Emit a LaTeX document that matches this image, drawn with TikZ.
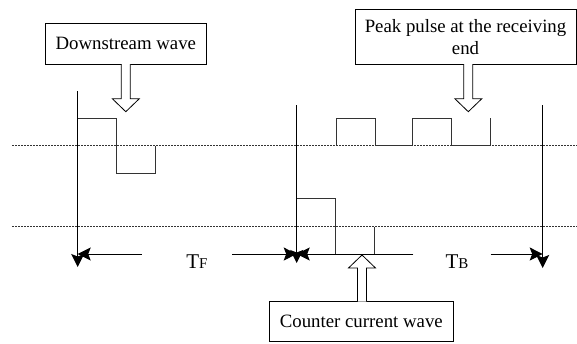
\documentclass[tikz,border=0pt]{standalone}
\usepackage{fontspec}
\setmainfont{Liberation Serif}
\usetikzlibrary{arrows.meta}
\newcommand\blockarr[4]{% x, y start, y tip, dir (+1 down, -1 up)
  \draw[line width=0.8pt, fill=white] (#1-4.5,#2) -- (#1-4.5,#3-13*#4) -- (#1-13.5,#3-13*#4) -- (#1,#3)
     -- (#1+13.5,#3-13*#4) -- (#1+4.5,#3-13*#4) -- (#1+4.5,#2);}
\begin{document}
\begin{tikzpicture}[x=1pt,y=-1pt,
  box/.style={draw, line width=0.8pt, inner sep=0pt, align=center, font=\fontsize{18.8}{22}\selectfont},
  wave/.style={line width=0.9pt, draw=black!80},
  dotline/.style={line width=0.9pt, dash pattern=on 1.5pt off 1.5pt, draw=black!80},
  axis/.style={line width=0.9pt, -{Stealth[length=13pt,width=13pt,inset=2.5pt]}},
  tlabel/.style={inner sep=0pt, font=\fontsize{21}{21}\selectfont}]
\useasboundingbox (0,0) rectangle (577,343);
% boxes
\node[box, minimum width=161.7pt, minimum height=40.7pt] (down) at (125.8,43.7) {Downstream wave};
\node[box, minimum width=221pt, minimum height=54.7pt] (peak) at (465.5,36.7) {Peak pulse at the receiving\\end};
\node[box, minimum width=184pt, minimum height=40pt] (counter) at (361.3,321.7) {Counter current wave};
% dotted levels
\draw[dotline] (12,145.7) -- (577,145.7);
\draw[dotline] (12,226.7) -- (577,226.7);
% waveforms
\draw[wave] (77.7,118) -- (116,118) -- (116,173.7) -- (155,173.7) -- (155,145.7);
\draw[wave] (336,145.7) -- (336,118.3) -- (375,118.3) -- (375,145.7) -- (412.7,145.7) -- (412.7,118.3)
  -- (451.7,118.3) -- (451.7,145.7) -- (490,145.7) -- (490,118.3);
\draw[wave] (296.7,254) -- (296.7,198.5) -- (335,198.5) -- (335,254) -- (374.3,254) -- (374.3,226.7);
% vertical time marks
\coordinate (v1t) at (77.7,91);   \coordinate (v1b) at (77.7,267);
\coordinate (v2t) at (296.7,105); \coordinate (v2b) at (296.7,263);
\coordinate (v3t) at (542.7,105); \coordinate (v3b) at (542.7,268);
\draw[axis] (v1t) -- (v1b);
\draw[axis] (v2t) -- (v2b);
\draw[axis] (v3t) -- (v3b);
% horizontal intervals
\coordinate (h1) at (77.7,254); \coordinate (h2) at (296.7,254); \coordinate (h3) at (542.7,254);
\coordinate (fL) at (141.7,254); \coordinate (fR) at (232.3,254);
\coordinate (bL) at (413.3,254); \coordinate (bR) at (490.7,254);
\node[tlabel] (tf) at (197,262) {T{\fontsize{15}{15}\selectfont F}};
\node[tlabel] (tb) at (457,262) {T{\fontsize{15}{15}\selectfont B}};
\draw[axis] (fL) -- (h1);
\draw[axis] (fR) -- (h2);
\draw[axis] (bL) -- (h2);
\draw[axis] (bR) -- (h3);
% block arrows
\blockarr{125.8}{64}{111.7}{1}
\blockarr{468.3}{64}{111.7}{1}
\blockarr{362}{301.7}{255}{-1}
\end{tikzpicture}
\end{document}
